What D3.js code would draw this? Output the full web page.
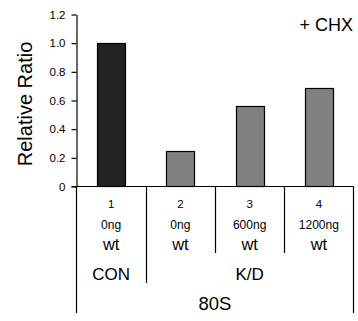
<!DOCTYPE html>
<html><head><meta charset="utf-8">
<script src="https://cdn.jsdelivr.net/npm/d3@7/dist/d3.min.js"></script>
<style>
html,body{margin:0;padding:0;background:#fff;}
svg{display:block;font-family:"Liberation Sans",Arial,sans-serif;}
</style></head>
<body>
<script>
const lanes = ["1","2","3","4"];
const doses = ["0ng","0ng","600ng","1200ng"];
const types = ["wt","wt","wt","wt"];
const values = [1.0, 0.25, 0.56, 0.69];
const barColors = ["#222222","#808080","#808080","#808080"];
const groups = [{label:"CON", from:0, to:0},{label:"K/D", from:1, to:3}];
const outerLabel = "80S";
const yTicks = [0, 0.2, 0.4, 0.6, 0.8, 1.0, 1.2];
const yTickLabels = ["0","0.2","0.4","0.6","0.8","1.0","1.2"];
const yTitle = "Relative Ratio";
const note = "+ CHX";

const W = 358, H = 321;
const svg = d3.select("body").append("svg").attr("width", W).attr("height", H);

const x = d3.scaleBand().domain(lanes).range([76.5, 353.5]).padding(0);
const y = d3.scaleLinear().domain([0, 1.2]).range([186.5, 14.5]);
const bw = 28;

// bars
svg.append("g").selectAll("rect").data(values).join("rect")
  .attr("x", (d,i) => Math.round(x(lanes[i]) + x.bandwidth()/2 - bw/2) + 0.5)
  .attr("y", d => Math.round(y(d)) + 0.5)
  .attr("width", bw)
  .attr("height", d => y(0) - Math.round(y(d)) - 0.5)
  .attr("fill", (d,i) => barColors[i])
  .attr("stroke", "#000").attr("stroke-width", 1.2);

// y axis
const yAxis = d3.axisLeft(y).tickValues(yTicks)
  .tickFormat((d,i) => yTickLabels[i]).tickSizeInner(5).tickSizeOuter(0).tickPadding(6);
const ga = svg.append("g").attr("transform", "translate(76.5,0)").call(yAxis);
ga.select(".domain").attr("stroke", "#000").attr("stroke-width", 1.2);
ga.selectAll(".tick line").attr("stroke", "#000").attr("stroke-width", 1.2);
ga.selectAll(".tick text").attr("font-size", 11.5).attr("fill", "#000")
  .attr("font-family", "Liberation Sans, Arial, sans-serif");

// baseline
svg.append("line").attr("x1", 71.5).attr("x2", 353.5).attr("y1", y(0)).attr("y2", y(0))
  .attr("stroke", "#000").attr("stroke-width", 1.2);

// table lines
const x0 = x.range()[0], x1 = x.range()[1];
const tl = svg.append("g").attr("stroke", "#000").attr("stroke-width", 1.2);
tl.append("line").attr("x1", x0).attr("x2", x0).attr("y1", y(0)).attr("y2", 313);
tl.append("line").attr("x1", x1).attr("x2", x1).attr("y1", y(0)).attr("y2", 313);
lanes.slice(1).forEach((l, i) => {
  const xx = Math.round(x(l)) + 0.5;
  const isGroupEdge = groups.some(g => g.from === i + 1);
  tl.append("line").attr("x1", xx).attr("x2", xx).attr("y1", y(0))
    .attr("y2", isGroupEdge ? 283 : 253);
});

// table text
const tt = svg.append("g").attr("text-anchor", "middle").attr("fill", "#000");
lanes.forEach((l, i) => {
  const cx = x(l) + x.bandwidth()/2;
  tt.append("text").attr("x", cx).attr("y", 208).attr("font-size", 11.5).text(l);
  tt.append("text").attr("x", cx).attr("y", 229).attr("font-size", 12).text(doses[i]);
  tt.append("text").attr("x", cx).attr("y", 249.5).attr("font-size", 16.5).text(types[i]);
});
groups.forEach(g => {
  const cx = (x(lanes[g.from]) + x(lanes[g.to]) + x.bandwidth()) / 2;
  tt.append("text").attr("x", cx).attr("y", 279.5).attr("font-size", 17).text(g.label);
});
tt.append("text").attr("x", (x0 + x1) / 2).attr("y", 310).attr("font-size", 18.5).text(outerLabel);

// y title
svg.append("text").attr("transform", "translate(32,104) rotate(-90)")
  .attr("text-anchor", "middle").attr("font-size", 20).attr("fill", "#000").text(yTitle);

// note
svg.append("text").attr("x", 353).attr("y", 31).attr("text-anchor", "end")
  .attr("font-size", 18).attr("fill", "#000").text(note);
</script>
</body></html>
